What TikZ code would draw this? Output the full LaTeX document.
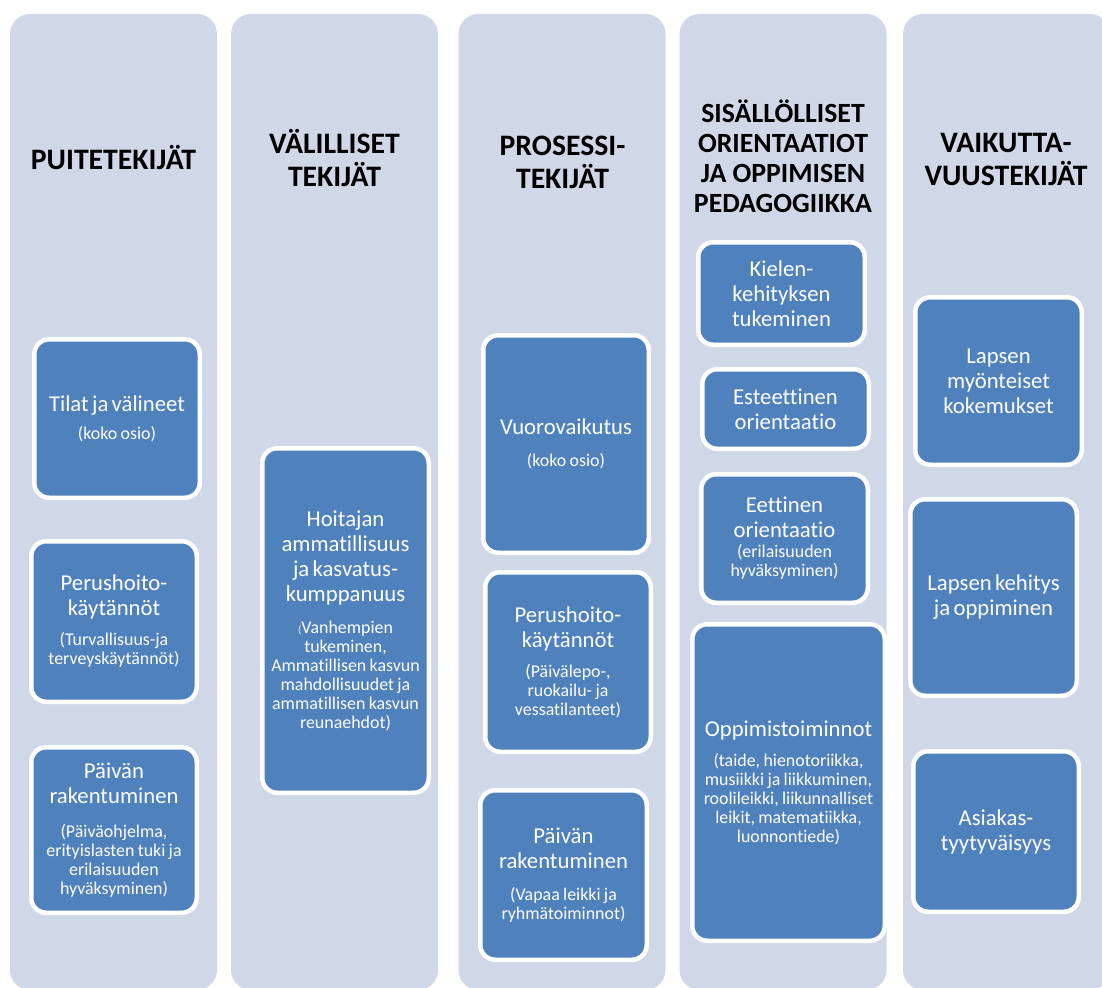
\documentclass[tikz,border=0pt]{standalone}
\usepackage{fontspec}
\setmainfont{Carlito}[Ligatures={NoCommon,NoContextual,NoRequired}, Contextuals={NoAlternate}, RawFeature={-liga;-clig;-calt;-dlig}]
\definecolor{colbg}{HTML}{D0D8E8}
\definecolor{boxblue}{HTML}{4F81BD}
\newcommand\mainf{\fontsize{22.7pt}{25pt}\selectfont}
\newcommand\subf{\fontsize{17.9pt}{19pt}\selectfont}
\newcommand\bxt[3]{{\mainf #1\par}\vspace{#2pt}{\subf #3\par}}
\newcommand\bxm[1]{{\mainf #1\par}}
\tikzset{
  colbox/.style={rectangle, rounded corners=20pt, fill=colbg, draw=none,
    minimum width=207pt, minimum height=976pt, inner sep=0pt},
  head/.style={align=center, font=\bfseries\fontsize{29.7pt}{33pt}\selectfont,
    text=black, inner sep=0pt},
  bluebox/.style={rectangle, rounded corners=15pt, fill=boxblue, draw=white,
    line width=4.5pt, text=white, align=center, inner sep=0pt, text width=162pt,
    execute at begin node={\setlength{\parindent}{0pt}\setlength{\parskip}{0pt}}},
}
\begin{document}
\begin{tikzpicture}[x=1pt,y=-1pt]
\useasboundingbox (0,0) rectangle (1102,987);
\fill[white] (0,0) rectangle (1102,987);
% columns
\node[colbox] (c1) at (113.5,502) {};
\node[colbox] (c2) at (334.5,502) {};
\node[colbox] (c3) at (562,502) {};
\node[colbox] (c4) at (783,502) {};
\node[colbox] (c5) at (1006.5,502) {};
% headings
\node[head] (h1) at (113.5,157.1) {PUITETEKIJÄT};
\node[head] (h2) at (334.5,157.6) {VÄLILLISET\\TEKIJÄT};
\node[head] (h3) at (562.5,162) {PROSESSI-\\TEKIJÄT};
\node[head, font=\bfseries\fontsize{27.8pt}{30pt}\selectfont] (h4) at (783,156.6)
  {SISÄLLÖLLISET\\ORIENTAATIOT\\JA OPPIMISEN\\PEDAGOGIIKKA};
\node[head] (h5) at (1006,159.5) {VAIKUTTA-\\VUUSTEKIJÄT};
% column 1
\node[bluebox, minimum width=165.5pt, minimum height=158.5pt] (tilat) at (117,418.5)
  {\bxt{Tilat ja välineet}{9}{(koko osio)}};
\node[bluebox, minimum width=165.5pt, minimum height=160.5pt] (perus1) at (114,621.5)
  {\bxt{Perushoito-\\käytännöt}{11}{(Turvallisuus-ja\\terveyskäytännöt)}};
\node[bluebox, minimum width=165.5pt, minimum height=165.5pt] (paivan1) at (114,830)
  {\bxt{Päivän\\rakentuminen}{15}{(Päiväohjelma,\\erityislasten tuki ja\\erilaisuuden\\hyväksyminen)}};
% column 2
\node[bluebox, minimum width=166.5pt, minimum height=344.5pt] (hoitajan) at (345.5,620.5)
  {\bxt{Hoitajan\\ammatillisuus\\ja kasvatus-\\kumppanuus}{13}{{\fontsize{11pt}{11pt}\selectfont(}Vanhempien\\tukeminen,\\Ammatillisen kasvun\\mahdollisuudet ja\\ammatillisen kasvun\\reunaehdot)}};
% column 3
\node[bluebox, minimum width=165.5pt, minimum height=217.5pt] (vuoro) at (566,444)
  {\bxt{Vuorovaikutus}{13}{(koko osio)}};
\node[bluebox, minimum width=165.5pt, minimum height=179.5pt] (perus3) at (568,662)
  {\bxt{Perushoito-\\käytännöt}{11}{(Päivälepo-,\\ruokailu- ja\\vessatilanteet)}};
\node[bluebox, minimum width=166.5pt, minimum height=169.5pt] (paivan3) at (563.5,875)
  {\bxt{Päivän\\rakentuminen}{13}{(Vapaa leikki ja\\ryhmätoiminnot)}};
% column 4
\node[bluebox, minimum width=166.5pt, minimum height=102.5pt] (kielen) at (781.5,293.5)
  {\bxm{Kielen-\\kehityksen\\tukeminen}};
\node[bluebox, minimum width=166.5pt, minimum height=79.5pt] (esteet) at (785.5,409)
  {\bxm{Esteettinen\\orientaatio}};
\node[bluebox, minimum width=166.5pt, minimum height=128.5pt] (eettinen) at (784.5,538.5)
  {\bxt{Eettinen\\orientaatio}{1}{(erilaisuuden\\hyväksyminen)}};
\node[bluebox, text width=188pt, minimum width=192.5pt, minimum height=316.5pt] (oppimis) at (788.5,782.5)
  {\bxt{Oppimistoiminnot}{11}{(taide, hienotoriikka,\\musiikki ja liikkuminen,\\roolileikki, liikunnalliset\\leikit, matematiikka,\\luonnontiede)}};
% column 5
\node[bluebox, minimum width=166.5pt, minimum height=167.5pt] (myont) at (998.5,381)
  {\bxm{Lapsen\\myönteiset\\kokemukset}};
\node[bluebox, minimum width=166.5pt, minimum height=196.5pt] (kehitys) at (993.5,597.5)
  {\bxm{Lapsen kehitys\\ja oppiminen}};
\node[bluebox, minimum width=165.5pt, minimum height=160.5pt] (asiakas) at (996,831.5)
  {\bxm{Asiakas-\\tyytyväisyys}};
\end{tikzpicture}
\end{document}
